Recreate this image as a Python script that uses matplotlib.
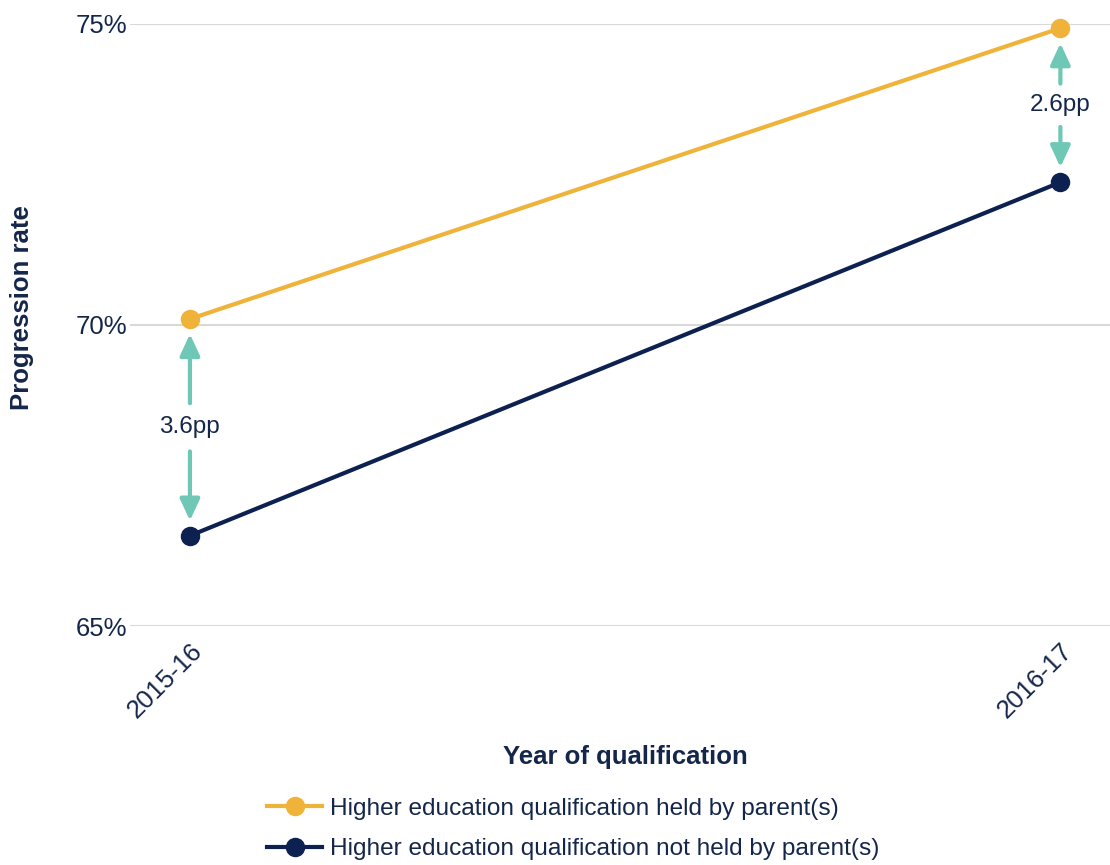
import matplotlib.pyplot as plt
from matplotlib.lines import Line2D

years = ["2015-16", "2016-17"]
held = [70.1, 74.93]
not_held = [66.5, 72.37]
gap_labels = ["3.6pp", "2.6pp"]
series_names = ["Higher education qualification held by parent(s)",
                "Higher education qualification not held by parent(s)"]

ORANGE = "#f0b33a"
NAVY = "#0c2150"
TEAL = "#6fc7b5"
TEXT = "#14264a"

plt.rcParams["font.family"] = ["Liberation Sans", "DejaVu Sans"]

fig = plt.figure(figsize=(11.1, 8.65), dpi=100)
ax = fig.add_axes([0.117, 0.2763, 0.883, 0.6960])

x = list(range(len(years)))
ax.plot(x, held, color=ORANGE, lw=3, marker="o", ms=13, clip_on=False, zorder=3)
ax.plot(x, not_held, color=NAVY, lw=3, marker="o", ms=13, clip_on=False, zorder=3)

# gap arrows between the two series
for i in x:
    top, bot = held[i], not_held[i]
    mid = (top + bot) / 2
    ax.text(i, mid, gap_labels[i], ha="center", va="center", fontsize=17.5, color=TEXT)
    half = 0.40 if i == 0 else 0.36
    arrow = dict(arrowstyle="-|>,head_width=0.43,head_length=0.93", color=TEAL, lw=3,
                 shrinkA=0, shrinkB=0, mutation_scale=14)
    ax.annotate("", xy=(i, top - 0.25), xytext=(i, mid + half), arrowprops=arrow)
    ax.annotate("", xy=(i, bot + 0.25), xytext=(i, mid - half), arrowprops=arrow)

ax.set_xlim(-0.069, 1.057)
ax.set_ylim(65, 75)
ax.set_yticks([65, 70, 75])
ax.set_yticklabels(["65%", "70%", "75%"])
ax.set_xticks(x)
ax.set_xticklabels(years, rotation=45, ha="right", rotation_mode="anchor")
ax.tick_params(axis="both", length=0, labelsize=18.5, labelcolor=TEXT)
ax.tick_params(axis="y", pad=2)
ax.tick_params(axis="x", pad=9)
ax.grid(axis="y", color="#d9d9d9", lw=1.5)
ax.set_axisbelow(True)
for s in ax.spines.values():
    s.set_visible(False)

fig.text(0.020, 0.645, "Progression rate", rotation=90, ha="center", va="center",
         fontsize=18.5, fontweight="bold", color=TEXT)
fig.text(0.563, 0.125, "Year of qualification", ha="center", va="center",
         fontsize=18.5, fontweight="bold", color=TEXT)

handles = [Line2D([], [], color=ORANGE, lw=3, marker="o", ms=13),
           Line2D([], [], color=NAVY, lw=3, marker="o", ms=13)]
fig.legend(handles, series_names, loc="upper left", bbox_to_anchor=(0.232, 0.089),
           frameon=False, fontsize=17.6, labelcolor=TEXT, handlelength=2.25,
           handletextpad=0.3, labelspacing=0.75, borderaxespad=0)

fig.savefig("out.png", dpi=100)
